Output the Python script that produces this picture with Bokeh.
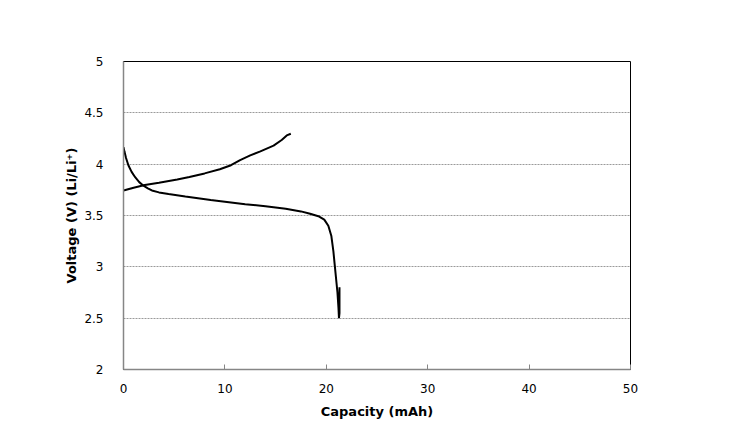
from bokeh.plotting import figure
from bokeh.models import FixedTicker, Range1d
from bokeh.embed import file_html
from bokeh.resources import INLINE

# Charge curve (capacity mAh, voltage V)
charge_cap = [0.0, 1.0, 2.1, 3.5, 5.3, 6.5, 8.0, 9.5, 10.6, 11.5, 12.5, 13.5, 14.8, 15.6, 16.1, 16.5]
charge_v = [3.744, 3.77, 3.797, 3.82, 3.85, 3.875, 3.91, 3.95, 3.99, 4.04, 4.085, 4.125, 4.18, 4.235, 4.28, 4.296]

# Discharge curve
dis_cap = [0.0, 0.1, 0.25, 0.49, 0.8, 1.15, 1.55, 1.97, 2.4, 2.8, 3.5, 4.44, 6.1, 8.6, 10.0, 12.0, 14.0, 16.0, 17.5,
           18.4, 19.3, 19.8, 20.2, 20.5, 20.7, 20.85, 21.0, 21.1, 21.2, 21.25, 21.3, 21.3]
dis_v = [4.166, 4.12, 4.06, 3.987, 3.925, 3.873, 3.825, 3.79, 3.765, 3.744, 3.725, 3.71, 3.686, 3.652, 3.635, 3.61,
         3.59, 3.565, 3.54, 3.517, 3.49, 3.46, 3.40, 3.30, 3.15, 3.0, 2.85, 2.75, 2.6, 2.5, 2.55, 2.8]

x_ticks = [0, 10, 20, 30, 40, 50]
y_ticks = [2, 2.5, 3, 3.5, 4, 4.5, 5]

p = figure(width=734, height=433, output_backend="svg", toolbar_location=None,
           x_range=Range1d(0, 50), y_range=Range1d(2, 5),
           min_border_left=123, min_border_right=104, min_border_top=61, min_border_bottom=64)
p.background_fill_color = "white"
p.border_fill_color = "white"
p.outline_line_color = "black"
p.outline_line_width = 1

font = "DejaVu Sans"
for ax in (p.xaxis[0], p.yaxis[0]):
    ax.axis_line_color = "#868686"
    ax.axis_line_width = 1.5
    ax.major_label_text_font = font
    ax.major_label_text_font_size = "12px"
    ax.major_label_text_color = "black"
    ax.axis_label_text_font = font
    ax.axis_label_text_font_size = "13px"
    ax.axis_label_text_font_style = "bold"
    ax.axis_label_text_color = "black"
    ax.minor_tick_line_color = None

p.xaxis.ticker = FixedTicker(ticks=x_ticks)
p.yaxis.ticker = FixedTicker(ticks=y_ticks)
p.xaxis.major_tick_in = 5
p.xaxis.major_tick_out = 0
p.xaxis.major_tick_line_color = "#868686"
p.yaxis.major_tick_line_color = None
p.xaxis.major_label_standoff = 14
p.yaxis.major_label_standoff = 14
p.xaxis.axis_label = "Capacity (mAh)"
p.yaxis.axis_label = "Voltage (V) (Li/Li\u207a)"
p.xaxis.axis_label_standoff = 8
p.yaxis.axis_label_standoff = 2

p.xgrid.grid_line_color = None
p.ygrid.grid_line_color = "#9a9a9a"
p.ygrid.grid_line_dash = "2 1"
p.ygrid.grid_line_width = 1

p.line(charge_cap, charge_v, line_color="black", line_width=2)
p.line(dis_cap, dis_v, line_color="black", line_width=2)

open("out.html", "w").write(file_html(p, INLINE))
